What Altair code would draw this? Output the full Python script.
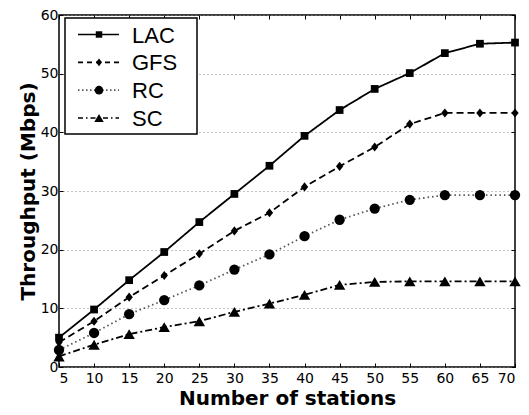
import altair as alt
import pandas as pd

stations = [5, 10, 15, 20, 25, 30, 35, 40, 45, 50, 55, 60, 65, 70]
series_names = ["LAC", "GFS", "RC", "SC"]
lac = [5.0, 9.8, 14.8, 19.6, 24.7, 29.5, 34.3, 39.4, 43.8, 47.4, 50.1, 53.5, 55.1, 55.3]
gfs = [4.2, 7.8, 11.9, 15.6, 19.3, 23.2, 26.3, 30.7, 34.2, 37.5, 41.4, 43.3, 43.3, 43.3]
rc = [2.9, 5.8, 9.0, 11.4, 13.9, 16.6, 19.2, 22.3, 25.1, 27.0, 28.5, 29.3, 29.3, 29.3]
sc = [1.8, 3.8, 5.6, 6.8, 7.8, 9.4, 10.8, 12.3, 14.0, 14.5, 14.6, 14.6, 14.6, 14.6]
x_ticks = [5, 10, 15, 20, 25, 30, 35, 40, 45, 50, 55, 60, 65, 70]
y_ticks = [0, 10, 20, 30, 40, 50, 60]

rows = []
for name, vals in zip(series_names, [lac, gfs, rc, sc]):
    for s, v in zip(stations, vals):
        rows.append({"stations": s, "throughput": v, "series": name})
df = pd.DataFrame(rows)
legend_df = pd.DataFrame({"series": series_names})

AXFONT = "DejaVu Sans"
LEGFONT = "Liberation Sans"
dash_scale = alt.Scale(domain=series_names, range=[[1, 0], [7, 4], [1.5, 3], [7, 3, 2, 3]])
shape_scale = alt.Scale(domain=series_names,
                        range=["square", "M0,-1L0.8,0L0,1L-0.8,0Z", "circle", "triangle-up"])
size_scale = alt.Scale(domain=series_names, range=[60, 130, 64, 90])
leg_size_scale = alt.Scale(domain=series_names, range=[42, 90, 50, 64])
color_scale = alt.Scale(domain=series_names, range=["#000000", "#000000", "#555555", "#000000"])

x_enc = alt.X("stations:Q", scale=alt.Scale(domain=[5, 70], nice=False),
              axis=alt.Axis(values=x_ticks, title="Number of stations", orient="bottom",
                            offset=-4, tickSize=4, domain=False, grid=False,
                            labelPadding=4, titlePadding=3))
y_enc = alt.Y("throughput:Q", scale=alt.Scale(domain=[0, 60], nice=False),
              axis=alt.Axis(values=y_ticks, title="Throughput (Mbps)", orient="left",
                            offset=-4, tickSize=4, domain=False, grid=True,
                            gridDash=[1, 3], gridColor="#888888", gridWidth=1,
                            labelPadding=1, titlePadding=2))

lines = alt.Chart(df).mark_line(strokeWidth=1.8).encode(
    x=x_enc, y=y_enc,
    strokeDash=alt.StrokeDash("series:N", scale=dash_scale, legend=None),
    color=alt.Color("series:N", scale=color_scale, legend=None),
    detail="series:N",
)
points = alt.Chart(df).mark_point(filled=True, opacity=1, color="black").encode(
    x=alt.X("stations:Q", axis=None),
    y=alt.Y("throughput:Q", axis=None),
    shape=alt.Shape("series:N", scale=shape_scale, legend=None),
    size=alt.Size("series:N", scale=size_scale, legend=None),
)
# mirrored inward ticks on top and right
mirror = alt.Chart(df).mark_point(opacity=0).encode(
    x=alt.X("stations:Q", axis=alt.Axis(values=x_ticks, orient="top", offset=-4, tickSize=4,
                                         labels=False, domain=False, grid=False, title=None)),
    y=alt.Y("throughput:Q", axis=alt.Axis(values=y_ticks, orient="right", offset=-4, tickSize=4,
                                           labels=False, domain=False, grid=False, title=None)),
)
main = alt.layer(lines, points, mirror)

# legend
leg_y = alt.Y("series:N", scale=alt.Scale(type="point", domain=series_names, range=[19.5, 103], padding=0),
              axis=None)
box = alt.Chart(pd.DataFrame({"a": [0]})).mark_rect(fill="white", stroke="black", strokeWidth=1.5).encode(
    x=alt.value(6), x2=alt.value(138), y=alt.value(3), y2=alt.value(119))
leg_lines = alt.Chart(legend_df).mark_rule(strokeWidth=1.6).encode(
    x=alt.value(19), x2=alt.value(60), y=leg_y,
    strokeDash=alt.StrokeDash("series:N", scale=alt.Scale(domain=series_names,
                              range=[[1, 0], [5, 4], [1.5, 2.5], [5, 3, 1.5, 3]]), legend=None),
    color=alt.Color("series:N", scale=color_scale, legend=None),
)
leg_pts = alt.Chart(legend_df).mark_point(filled=True, opacity=1, color="black").encode(
    x=alt.value(40), y=leg_y,
    shape=alt.Shape("series:N", scale=shape_scale, legend=None),
    size=alt.Size("series:N", scale=leg_size_scale, legend=None),
)
leg_text = alt.Chart(legend_df).mark_text(align="left", baseline="middle", font=LEGFONT, fontSize=22,
                                          color="black", dy=1).encode(
    x=alt.value(73), y=leg_y, text="series:N")
legend = alt.layer(box, leg_lines, leg_pts, leg_text).resolve_scale(strokeDash="independent", size="independent")

chart = alt.layer(main, legend).resolve_scale(y="independent", size="independent", strokeDash="independent").properties(
    width=456, height=352,
    autosize=alt.AutoSizeParams(type="none"),
    padding={"left": 51, "top": 7, "right": 6, "bottom": 48},
).configure_view(stroke="black", strokeWidth=1.5).configure_axis(
    labelFont=AXFONT, titleFont=AXFONT, labelFontSize=14, labelColor="black",
    titleFontSize=20, titleFontWeight="bold", titleColor="black",
    tickColor="black", tickWidth=1,
)

chart.save("out.html", embed_options={"renderer": "svg", "actions": False})
